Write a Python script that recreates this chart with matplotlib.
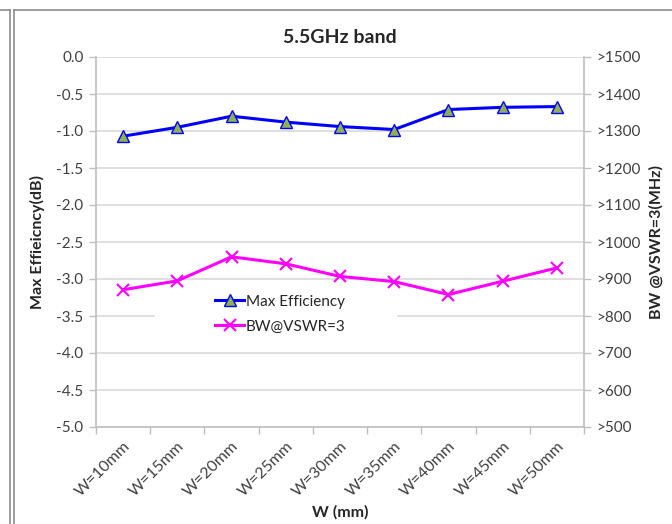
import matplotlib
matplotlib.use("Agg")
import matplotlib.pyplot as plt
from matplotlib.patches import Rectangle
from matplotlib.lines import Line2D
import numpy as np

plt.rcParams['font.family'] = ['Lato', 'DejaVu Sans']

categories = ["W=10mm", "W=15mm", "W=20mm", "W=25mm", "W=30mm",
              "W=35mm", "W=40mm", "W=45mm", "W=50mm"]
max_eff_db = [-1.07, -0.95, -0.80, -0.88, -0.94, -0.98, -0.71, -0.68, -0.67]
bw_mhz = [871, 895, 960, 941, 907, 893, 858, 894, 930]
left_ticks = [0.0, -0.5, -1.0, -1.5, -2.0, -2.5, -3.0, -3.5, -4.0, -4.5, -5.0]
right_ticks = [1500, 1400, 1300, 1200, 1100, 1000, 900, 800, 700, 600, 500]

W, H = 672, 524
fig = plt.figure(figsize=(W / 100, H / 100), dpi=100)

# outer frame lines around the chart area
frame_col = "#8c8c8c"
fig.add_artist(Line2D([9.5 / W, 9.5 / W], [0, 1 - 9.5 / H], color=frame_col, lw=1.2))
fig.add_artist(Line2D([0, 9.5 / W], [1 - 9.5 / H, 1 - 9.5 / H], color=frame_col, lw=1.2))
fig.add_artist(Line2D([13.5 / W, 13.5 / W], [0, 1 - 9.5 / H], color=frame_col, lw=1.2))
fig.add_artist(Line2D([13.5 / W, 1], [1 - 9.5 / H, 1 - 9.5 / H], color=frame_col, lw=1.2))

left, right, top, bottom = 96, 584, 57, 427
ax = fig.add_axes([left / W, 1 - bottom / H, (right - left) / W, (bottom - top) / H])
ax2 = ax.twinx()

axis_col = "#bfbfbf"
grid_col = "#d9d9d9"
text_col = "#404040"
label_col = "#262626"
x = np.arange(len(categories))

ax.set_xlim(-0.5, len(categories) - 0.5)
ax.set_ylim(-5.0, 0.0)
ax.set_yticks(left_ticks)
ax.set_yticklabels([f"{v:.1f}" for v in left_ticks])
ax.yaxis.grid(True, color=grid_col, lw=1.2)
ax.set_axisbelow(True)

ax.set_xticks(x)
ax.set_xticklabels(categories, rotation=45, ha="right", rotation_mode="anchor")
ax.set_xticks(np.arange(-0.5, len(categories)), minor=True)
ax.tick_params(axis="x", which="major", length=0, pad=9, labelsize=11.5, labelcolor=text_col)
ax.tick_params(axis="x", which="minor", length=5, color=axis_col, width=1)
ax.tick_params(axis="y", length=5, color=axis_col, width=1, labelsize=11, labelcolor=text_col, pad=4)

for sp in ["top", "right"]:
    ax.spines[sp].set_visible(False)
    ax2.spines[sp].set_visible(False)
for sp in ["left", "bottom"]:
    ax.spines[sp].set_color(axis_col)
    ax.spines[sp].set_linewidth(1.2)
    ax2.spines[sp].set_visible(False)
ax2.spines["right"].set_visible(True)
ax2.spines["right"].set_color(axis_col)
ax2.spines["right"].set_linewidth(1.2)

ax2.set_ylim(500, 1500)
ax2.set_yticks(right_ticks)
ax2.set_yticklabels([f">{v}" for v in right_ticks])
ax2.tick_params(axis="y", length=5, color=axis_col, width=1, labelsize=11, labelcolor=text_col, pad=4)

# white legend backdrop over the gridlines
ax.add_patch(Rectangle((0.121, 0.23), 0.496, 0.146, transform=ax.transAxes,
                       facecolor="white", edgecolor="none", zorder=1))

l1, = ax.plot(x, max_eff_db, color="#0000ff", lw=2.2, marker="^", markersize=8,
              markerfacecolor="#8fb052", markeredgecolor="#0000ff", markeredgewidth=1.0,
              zorder=4, label="Max Efficiency")
l2, = ax2.plot(x, bw_mhz, color="#ff00ff", lw=2.2, marker="x", markersize=9,
               markeredgewidth=1.5, zorder=4, label="BW@VSWR=3")

ax.set_title("5.5GHz band", fontsize=14, fontweight="bold", color=label_col, pad=10)
ax.set_ylabel("Max Effieicncy(dB)", fontsize=11.5, fontweight="bold", color=label_col, labelpad=8)
ax2.set_ylabel("BW @VSWR=3(MHz)", fontsize=11.5, fontweight="bold", color=label_col, labelpad=6)
ax.set_xlabel("W (mm)", fontsize=11.5, fontweight="bold", color=label_col, labelpad=4)

leg = ax2.legend(handles=[l1, l2], loc="center", bbox_to_anchor=(0.378, 0.305),
                 frameon=False, fontsize=11, handlelength=1.9, handletextpad=0.1,
                 labelspacing=0.7, labelcolor=label_col)

fig.savefig("out.png", dpi=100)
